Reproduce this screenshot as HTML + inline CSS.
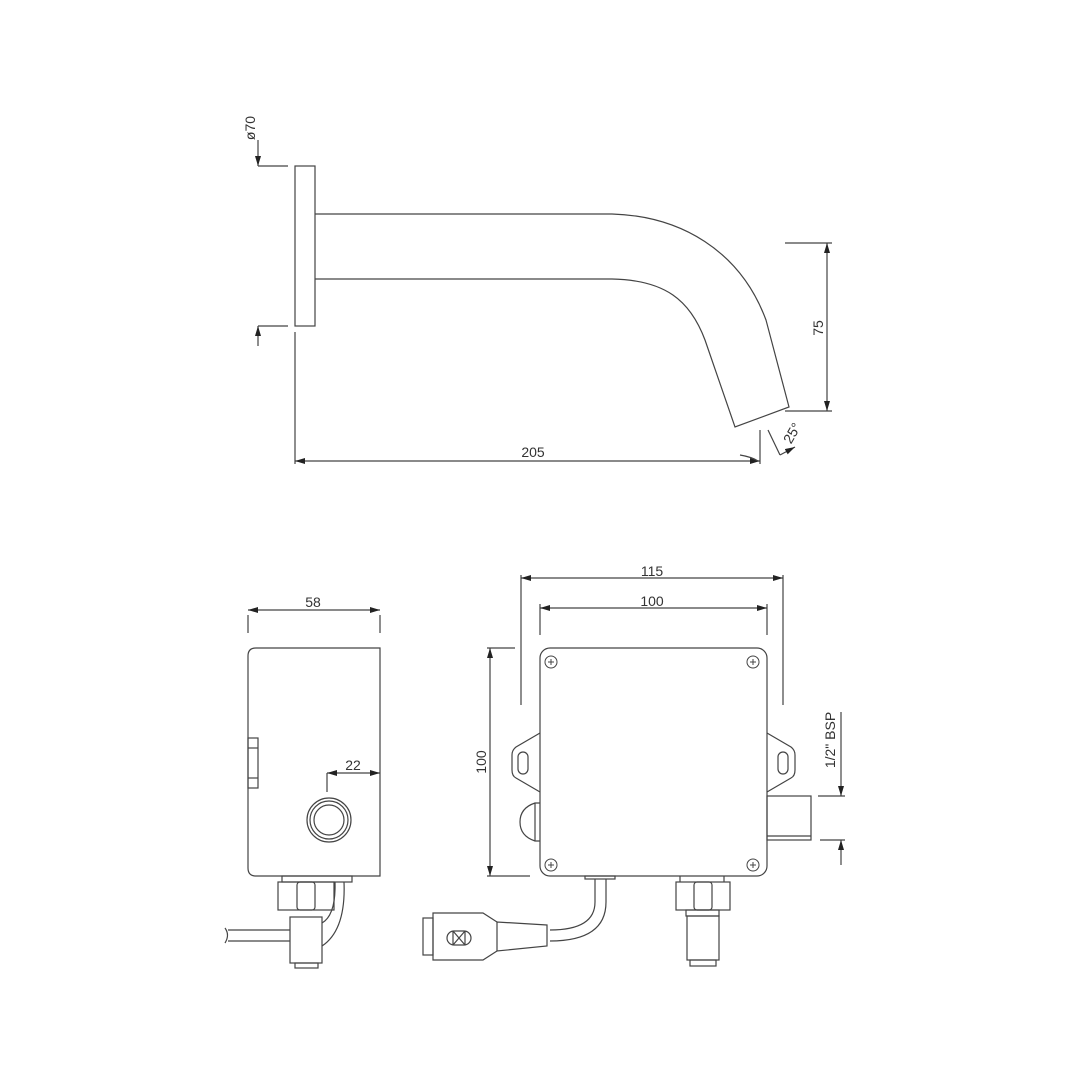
<!DOCTYPE html>
<html><head><meta charset="utf-8"><style>html,body{margin:0;padding:0;background:#fff}svg{display:block}text{font-family:"Liberation Sans",sans-serif;fill:#333;font-size:14px}</style></head><body>
<svg width="1080" height="1080" viewBox="0 0 1080 1080" xmlns="http://www.w3.org/2000/svg">
<defs>
<marker id="a" viewBox="0 0 10 6" refX="10" refY="3" markerWidth="10" markerHeight="6" orient="auto-start-reverse" markerUnits="userSpaceOnUse"><path d="M0,0 L10,3 L0,6 z" fill="#222"/></marker>
</defs>
<g fill="none" stroke="#444" stroke-width="1.2">
<!-- spout -->
<rect x="295" y="166" width="20" height="160"/>
<path d="M315,214 H612 C680,216 740,250 766,320 L789,407 L735,427 L705,340 C690,300 665,280 612,279 H315"/>
<!-- phi70 dims -->
<line x1="258" y1="140" x2="258" y2="166" marker-end="url(#a)"/>
<line x1="258" y1="166" x2="288" y2="166"/>
<line x1="258" y1="346" x2="258" y2="326" marker-end="url(#a)"/>
<line x1="258" y1="326" x2="288" y2="326"/>
<!-- 205 -->
<line x1="295" y1="332" x2="295" y2="464"/>
<line x1="760" y1="430" x2="760" y2="464"/>
<line x1="295" y1="461" x2="760" y2="461" marker-start="url(#a)" marker-end="url(#a)"/>
<path d="M740,455 Q752,457 758,461"/>
<!-- 75 -->
<line x1="785" y1="243" x2="832" y2="243"/>
<line x1="785" y1="411" x2="832" y2="411"/>
<line x1="827" y1="243" x2="827" y2="411" marker-start="url(#a)" marker-end="url(#a)"/>
<!-- 25 -->
<line x1="768" y1="430" x2="780" y2="455"/>
<line x1="780" y1="455" x2="795" y2="447" marker-end="url(#a)"/>

<!-- side view -->
<path d="M256,648 H380 V876 H256 Q248,876 248,868 V656 Q248,648 256,648 Z"/>
<rect x="248" y="738" width="10" height="50"/>
<line x1="248" y1="748" x2="258" y2="748"/><line x1="248" y1="778" x2="258" y2="778"/>
<line x1="248" y1="615" x2="248" y2="633"/><line x1="380" y1="615" x2="380" y2="633"/>
<line x1="248" y1="610" x2="380" y2="610" marker-start="url(#a)" marker-end="url(#a)"/>
<line x1="327" y1="773" x2="380" y2="773" marker-start="url(#a)" marker-end="url(#a)"/>
<line x1="327" y1="773" x2="327" y2="792"/>
<circle cx="329" cy="820" r="22"/><circle cx="329" cy="820" r="19"/><circle cx="329" cy="820" r="15"/>
<rect x="282" y="876" width="70" height="6"/>
<rect x="278" y="882" width="56" height="28"/>
<rect x="297" y="882" width="18" height="28" rx="3"/>
<rect x="290" y="917" width="32" height="46"/>
<rect x="295" y="963" width="23" height="5"/>
<line x1="228" y1="930" x2="290" y2="930"/><line x1="228" y1="941" x2="290" y2="941"/>
<path d="M225,928 q5,7 0,15"/>
<path d="M335,882 Q336,915 322,923"/>
<path d="M344,882 Q346,930 322,946"/>

<!-- main box -->
<rect x="540" y="648" width="227" height="228" rx="10"/>
<g stroke-width="1">
<circle cx="551" cy="662" r="6"/><circle cx="753" cy="662" r="6"/><circle cx="551" cy="865" r="6"/><circle cx="753" cy="865" r="6"/>
<path d="M548,662h6M551,659v6M750,662h6M753,659v6M548,865h6M551,862v6M750,865h6M753,862v6"/>
</g>
<!-- ears -->
<path d="M540,733 L516,747 Q512,750 512,755 V770 Q512,776 516,778 L540,792"/>
<rect x="518" y="752" width="10" height="22" rx="5"/>
<path d="M767,733 L791,747 Q795,750 795,755 V770 Q795,776 791,778 L767,792"/>
<rect x="778" y="752" width="10" height="22" rx="5"/>
<!-- sensor -->
<path d="M540,803 H535 Q520,808 520,822 Q520,836 535,841 H540"/>
<line x1="535" y1="803" x2="535" y2="841"/>
<!-- outlet -->
<rect x="767" y="796" width="44" height="44"/>
<line x1="767" y1="836" x2="811" y2="836"/>
<!-- dims -->
<line x1="521" y1="575" x2="521" y2="705"/><line x1="783" y1="575" x2="783" y2="705"/>
<line x1="521" y1="578" x2="783" y2="578" marker-start="url(#a)" marker-end="url(#a)"/>
<line x1="540" y1="604" x2="540" y2="635"/><line x1="767" y1="604" x2="767" y2="635"/>
<line x1="540" y1="608" x2="767" y2="608" marker-start="url(#a)" marker-end="url(#a)"/>
<line x1="487" y1="648" x2="515" y2="648"/><line x1="487" y1="876" x2="530" y2="876"/>
<line x1="490" y1="648" x2="490" y2="876" marker-start="url(#a)" marker-end="url(#a)"/>
<line x1="818" y1="796" x2="845" y2="796"/><line x1="820" y1="840" x2="845" y2="840"/>
<line x1="841" y1="712" x2="841" y2="796" marker-end="url(#a)"/>
<line x1="841" y1="865" x2="841" y2="840" marker-end="url(#a)"/>
<!-- cable & connector -->
<rect x="585" y="876" width="30" height="3"/>
<path d="M595,879 V902 Q595,930 550,930"/>
<path d="M606,879 V902 Q606,941 550,941"/>
<path d="M547,925 L497,922 V951 L547,946 Z"/>
<path d="M497,922 L483,913 H433 V960 H483 L497,951"/>
<rect x="423" y="918" width="10" height="37"/>
<rect x="447" y="931" width="24" height="14" rx="7"/>
<path d="M453,931v14M465,931v14M453,931l12,14M465,931l-12,14"/>
<!-- right fitting -->
<path d="M680,876v6M724,876v6"/>
<rect x="676" y="882" width="54" height="28"/>
<rect x="694" y="882" width="18" height="28" rx="3"/>
<rect x="686" y="910" width="33" height="6"/>
<rect x="687" y="916" width="32" height="44"/>
<rect x="690" y="960" width="26" height="6"/>
</g>
<text x="250" y="128" text-anchor="middle" transform="rotate(-90 250 128)" dy="5">ø70</text>
<text x="533" y="457" text-anchor="middle">205</text>
<text x="818" y="328" text-anchor="middle" transform="rotate(-90 818 328)" dy="5">75</text>
<text x="792" y="433" text-anchor="middle" transform="rotate(-60 792 433)" dy="5">25°</text>
<text x="313" y="607" text-anchor="middle">58</text>
<text x="353" y="770" text-anchor="middle">22</text>
<text x="652" y="576" text-anchor="middle">115</text>
<text x="652" y="606" text-anchor="middle">100</text>
<text x="481" y="762" text-anchor="middle" transform="rotate(-90 481 762)" dy="5">100</text>
<text x="830" y="740" text-anchor="middle" transform="rotate(-90 830 740)" dy="5">1/2" BSP</text>
</svg>
</body></html>
